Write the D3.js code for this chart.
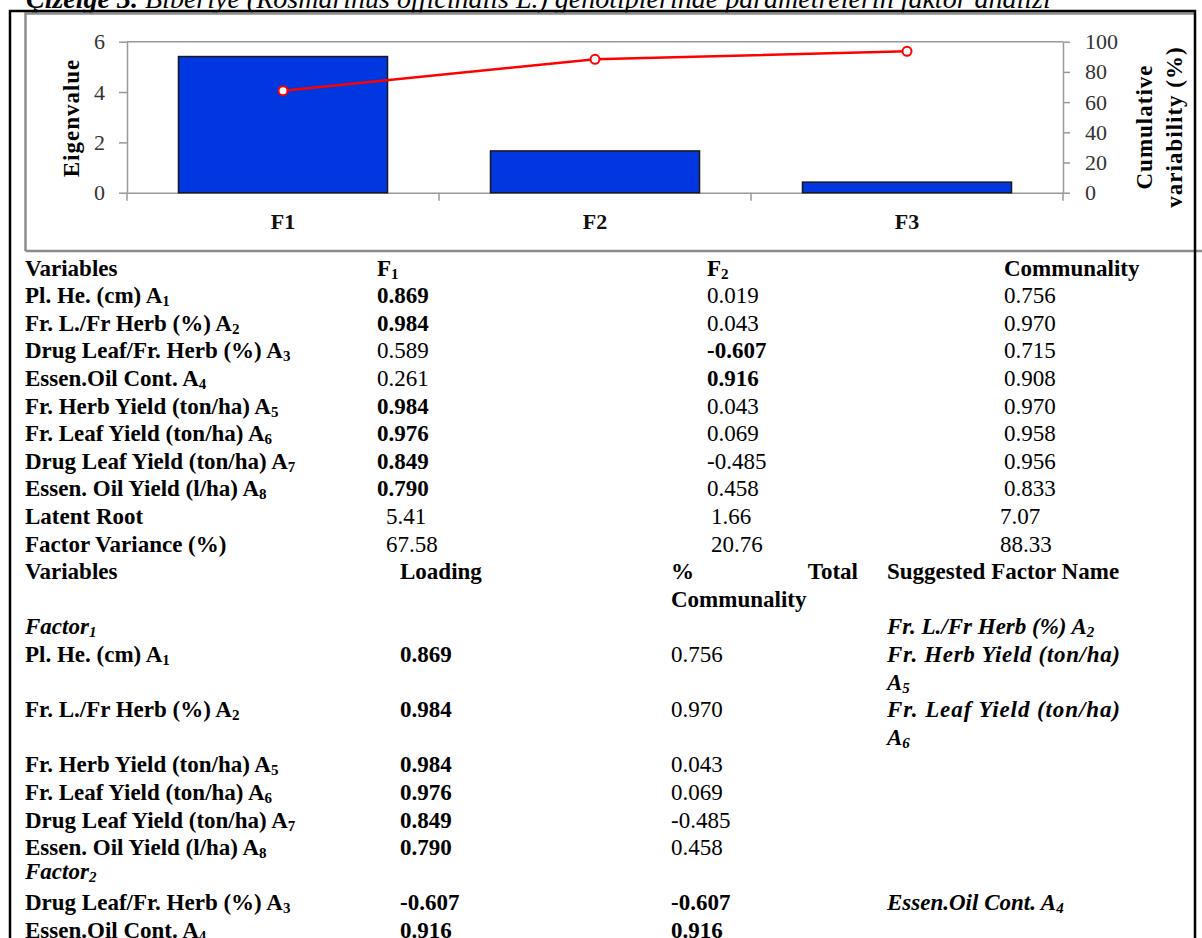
<!DOCTYPE html>
<html>
<head>
<meta charset="utf-8">
<script src="https://cdn.jsdelivr.net/npm/d3@7"></script>
<style>
  body { margin: 0; background: #fff; }
  svg { display: block; font-family: "Liberation Serif", "Times New Roman", serif; }
</style>
</head>
<body>
<svg width="1202" height="938"></svg>
<script>
// chart data
var factors = ["F1", "F2", "F3"];
var eigenvalues = [5.41, 1.66, 0.42];
var cumulative = [67.58, 88.33, 93.6];
var eigenTicks = [0, 2, 4, 6];
var cumTicks = [0, 20, 40, 60, 80, 100];

// table data
var varLabels = ["Pl. He. (cm) A_1", "Fr. L./Fr Herb (%) A_2", "Drug Leaf/Fr. Herb (%) A_3",
  "Essen.Oil Cont. A_4", "Fr. Herb Yield (ton/ha) A_5", "Fr. Leaf Yield (ton/ha) A_6",
  "Drug Leaf Yield (ton/ha) A_7", "Essen. Oil Yield (l/ha) A_8"];
var loadingsF1 = [0.869, 0.984, 0.589, 0.261, 0.984, 0.976, 0.849, 0.790];
var loadingsF2 = [0.019, 0.043, -0.607, 0.916, 0.043, 0.069, -0.485, 0.458];
var communality = [0.756, 0.970, 0.715, 0.908, 0.970, 0.958, 0.956, 0.833];
var latentRoot = [5.41, 1.66, 7.07];
var factorVariance = [67.58, 20.76, 88.33];
var f1Members = [0, 1, 4, 5, 6, 7];
var f1Totals = [0.756, 0.970, 0.043, 0.069, -0.485, 0.458];
var f2Members = [2, 3];
var f2Totals = [-0.607, 0.916];
var f1Suggested = ["Fr. L./Fr Herb (%) A_2", "Fr. Herb Yield (ton/ha) A_5", "Fr. Leaf Yield (ton/ha) A_6"];
var f2Suggested = ["Essen.Oil Cont. A_4"];

var svg = d3.select("svg");

// title, cut at the top
var title = svg.append("text").attr("x", 26).attr("y", 8).style("font-size", "28px").style("font-style", "italic");
title.append("tspan").style("font-weight", "bold").text("Çizelge 3.");
title.append("tspan").text(" Biberiye (Rosmarinus officinalis L.) genotiplerinde parametrelerin faktör analizi");

// outer black box + grey chart frame
svg.append("path").attr("d", "M25.5,251V13.5H1195M25.5,251H1202").attr("fill", "none").attr("stroke", "#8c8c8c").attr("stroke-width", 2.5);
svg.append("path").attr("d", "M10,938V11H1195V938").attr("fill", "none").attr("stroke", "#000").attr("stroke-width", 2.5);

var x = d3.scaleBand().domain(factors).range([127, 1063]).padding(0);
var yL = d3.scaleLinear().domain([0, 6]).range([192.7, 41.7]);
var yR = d3.scaleLinear().domain([0, 100]).range([192.7, 41.7]);

// plot top border
svg.append("line").attr("x1", 127).attr("x2", 1063).attr("y1", yL(6)).attr("y2", yL(6))
  .attr("stroke", "#999").attr("stroke-width", 1.5);

var gL = svg.append("g").attr("transform", "translate(127,0)")
  .call(d3.axisLeft(yL).tickValues(eigenTicks).tickFormat(d3.format("d")).tickSize(8).tickSizeOuter(0).tickPadding(14));
var gR = svg.append("g").attr("transform", "translate(1063,0)")
  .call(d3.axisRight(yR).tickValues(cumTicks).tickFormat(d3.format("d")).tickSize(7).tickSizeOuter(0).tickPadding(15));
var gB = svg.append("g").attr("transform", "translate(0," + yL(0) + ")")
  .call(d3.axisBottom(x).tickSize(0).tickSizeOuter(0).tickPadding(36));

[gL, gR, gB].forEach(function(g) {
  g.attr("font-size", null).attr("font-family", null);
  g.select(".domain").attr("stroke", "#999").attr("stroke-width", 1.5);
  g.selectAll(".tick line").attr("stroke", "#999").attr("stroke-width", 1.5);
  g.selectAll("text").style("font-size", "22px").attr("fill", "#333");
});
gB.selectAll("text").style("font-weight", "bold").attr("fill", "#111").attr("dy", 0);

// category boundary ticks
var bounds = factors.map(function(d) { return x(d); }).concat([x.range()[1]]);
svg.append("g").selectAll("line").data(bounds).enter().append("line")
  .attr("x1", function(d) { return d; }).attr("x2", function(d) { return d; })
  .attr("y1", yL(0)).attr("y2", yL(0) + 8)
  .attr("stroke", "#999").attr("stroke-width", 1.5);

// bars
var barW = x.bandwidth() * 0.67;
svg.append("g").selectAll("rect").data(eigenvalues).enter().append("rect")
  .attr("x", function(d, i) { return x(factors[i]) + (x.bandwidth() - barW) / 2; })
  .attr("y", function(d) { return yL(d); })
  .attr("width", barW)
  .attr("height", function(d) { return yL(0) - yL(d); })
  .attr("fill", "#0037e0").attr("stroke", "#1a1a1a").attr("stroke-width", 1.5);

// cumulative line
var line = d3.line()
  .x(function(d, i) { return x(factors[i]) + x.bandwidth() / 2; })
  .y(function(d) { return yR(d); });
svg.append("path").datum(cumulative).attr("d", line)
  .attr("fill", "none").attr("stroke", "#ff0000").attr("stroke-width", 2.5);
svg.append("g").selectAll("circle").data(cumulative).enter().append("circle")
  .attr("cx", function(d, i) { return x(factors[i]) + x.bandwidth() / 2; })
  .attr("cy", function(d) { return yR(d); })
  .attr("r", 4.5).attr("fill", "#fff").attr("stroke", "#ff0000").attr("stroke-width", 2);

// axis titles
svg.append("text").attr("transform", "translate(79,118) rotate(-90)").attr("text-anchor", "middle")
  .style("font-size", "23px").style("font-weight", "bold").style("letter-spacing", "1px").text("Eigenvalue");
svg.append("text").attr("transform", "translate(1152,127) rotate(-90)").attr("text-anchor", "middle")
  .style("font-size", "23px").style("font-weight", "bold").style("letter-spacing", "1px").text("Cumulative");
svg.append("text").attr("transform", "translate(1182,127) rotate(-90)").attr("text-anchor", "middle")
  .style("font-size", "23px").style("font-weight", "bold").style("letter-spacing", "1px").text("variability (%)");

// ---------- table ----------
function rowY(k) { return 275.5 + 27.6 * k; }

function txt(xp, yp, s, opt) {
  opt = opt || {};
  var t = svg.append("text").attr("x", xp).attr("y", yp).style("font-size", "23px")
    .style("font-weight", opt.bold ? "bold" : "normal")
    .style("font-style", opt.italic ? "italic" : "normal")
    .attr("text-anchor", opt.anchor || "start");
  var parts = s.split(/_(\d)/);
  var shift = 0;
  parts.forEach(function(p, i) {
    if (p === "") return;
    if (i % 2 === 1) {
      t.append("tspan").style("font-size", "15px").attr("dy", 3).text(p);
      shift = -3;
    } else {
      t.append("tspan").attr("dy", shift).text(p);
      shift = 0;
    }
  });
  if (opt.length) t.attr("textLength", opt.length).attr("lengthAdjust", "spacing");
  return t;
}
function f3(v) { return v.toFixed(3); }
function strong(v) { return Math.abs(v) >= 0.6; }

// first table
txt(25, rowY(0), "Variables", {bold: true});
txt(377, rowY(0), "F_1", {bold: true});
txt(707, rowY(0), "F_2", {bold: true});
txt(1004, rowY(0), "Communality", {bold: true});
varLabels.forEach(function(lab, i) {
  var k = i + 1;
  txt(25, rowY(k), lab, {bold: true});
  txt(377, rowY(k), f3(loadingsF1[i]), {bold: strong(loadingsF1[i])});
  txt(707, rowY(k), f3(loadingsF2[i]), {bold: strong(loadingsF2[i])});
  txt(1004, rowY(k), f3(communality[i]));
});
txt(25, rowY(9), "Latent Root", {bold: true});
txt(25, rowY(10), "Factor Variance (%)", {bold: true});
[386, 711, 1000].forEach(function(cx, j) {
  txt(cx, rowY(9), latentRoot[j].toFixed(2));
  txt(cx, rowY(10), factorVariance[j].toFixed(2));
});

// second table
txt(25, rowY(11), "Variables", {bold: true});
txt(400, rowY(11), "Loading", {bold: true});
txt(671, rowY(11), "%", {bold: true});
txt(858, rowY(11), "Total", {bold: true, anchor: "end"});
txt(671, rowY(12), "Communality", {bold: true});
txt(887, rowY(11), "Suggested Factor Name", {bold: true});

txt(25, rowY(13), "Factor_1", {bold: true, italic: true});
var f1Rows = [14, 16, 18, 19, 20, 21];
f1Members.forEach(function(m, j) {
  txt(25, rowY(f1Rows[j]), varLabels[m], {bold: true});
  txt(400, rowY(f1Rows[j]), f3(loadingsF1[m]), {bold: true});
  txt(671, rowY(f1Rows[j]), f3(f1Totals[j]));
});
var sRow = 13;
f1Suggested.forEach(function(s) {
  var t = txt(887, rowY(sRow), s, {bold: true, italic: true});
  if (t.node().getComputedTextLength() > 240) {
    t.remove();
    var cut = s.lastIndexOf(" A_");
    txt(887, rowY(sRow), s.slice(0, cut), {bold: true, italic: true, length: 233});
    txt(887, rowY(sRow + 1), s.slice(cut + 1), {bold: true, italic: true});
    sRow += 2;
  } else {
    sRow += 1;
  }
});

txt(25, rowY(21.85), "Factor_2", {bold: true, italic: true});
var f2Rows = [23, 24];
f2Members.forEach(function(m, j) {
  txt(25, rowY(f2Rows[j]), varLabels[m], {bold: true});
  txt(400, rowY(f2Rows[j]), f3(loadingsF2[m]), {bold: true});
  txt(671, rowY(f2Rows[j]), f3(f2Totals[j]), {bold: true});
});
f2Suggested.forEach(function(s, j) {
  txt(887, rowY(f2Rows[j]), s, {bold: true, italic: true});
});
</script>
</body>
</html>
